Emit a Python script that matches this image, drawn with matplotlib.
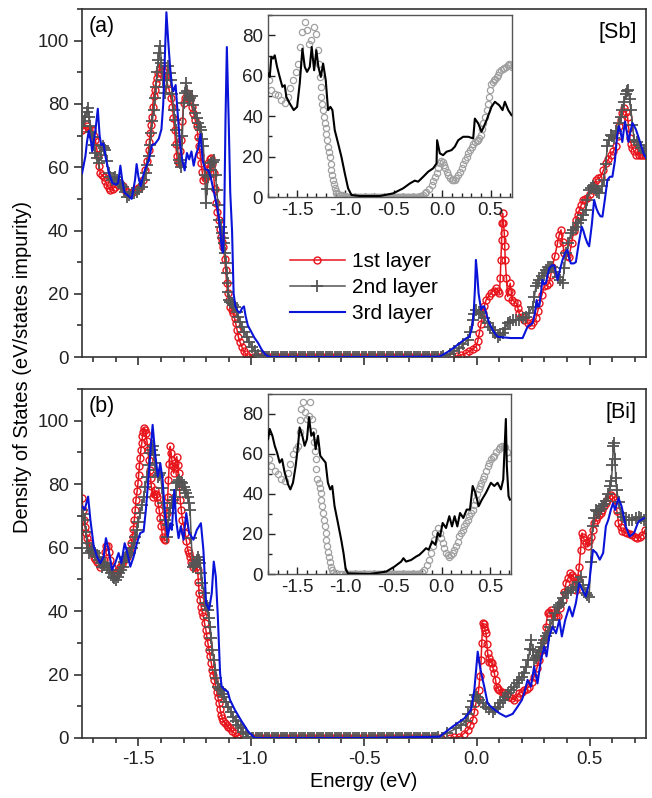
import numpy as np
import matplotlib
matplotlib.use("Agg")
import matplotlib.pyplot as plt
from matplotlib.ticker import MultipleLocator

plt.rcParams['font.family'] = ['Liberation Sans', 'DejaVu Sans']
plt.rcParams['axes.unicode_minus'] = False

# energy points of the flat gap region (DOS = 0)
gap_energy = [-0.99, -0.98, -0.97, -0.96, -0.95, -0.94, -0.93, -0.92, -0.91, -0.90,
              -0.89, -0.88, -0.87, -0.86, -0.85, -0.84, -0.83, -0.82, -0.81, -0.80,
              -0.79, -0.78, -0.77, -0.76, -0.75, -0.74, -0.73, -0.72, -0.71, -0.70,
              -0.69, -0.68, -0.67, -0.66, -0.65, -0.64, -0.63, -0.62, -0.61, -0.60,
              -0.59, -0.58, -0.57, -0.56, -0.55, -0.54, -0.53, -0.52, -0.51, -0.50,
              -0.49, -0.48, -0.47, -0.46, -0.45, -0.44, -0.43, -0.42, -0.41, -0.40,
              -0.39, -0.38, -0.37, -0.36, -0.35, -0.34, -0.33, -0.32, -0.31, -0.30,
              -0.29, -0.28, -0.27, -0.26, -0.25, -0.24, -0.23, -0.22, -0.21, -0.20,
              -0.19, -0.18, -0.17, -0.16]

# ---------------- panel (a) [Sb] ----------------
sb_1st_left = [(-1.75, 71.8), (-1.74, 72.5), (-1.728, 72.9), (-1.717, 72), (-1.706, 71.8), (-1.698, 70), (-1.691, 68.7),
    (-1.685, 66), (-1.679, 63.4), (-1.674, 60.5), (-1.669, 58.1), (-1.662, 57.5), (-1.654, 57), (-1.646, 55.5),
    (-1.639, 54.4), (-1.632, 53.5), (-1.625, 52.8), (-1.614, 53.2), (-1.603, 53.9), (-1.592, 54.5), (-1.58, 55),
    (-1.569, 54), (-1.558, 52.8), (-1.547, 52.2), (-1.536, 51.8), (-1.525, 52.2), (-1.514, 52.8), (-1.503, 53.3),
    (-1.492, 53.9), (-1.481, 56), (-1.47, 59.2), (-1.462, 62), (-1.455, 65.5), (-1.451, 68), (-1.448, 70.8),
    (-1.444, 73.5), (-1.44, 76), (-1.437, 79), (-1.433, 82.4), (-1.428, 84.5), (-1.423, 86.6), (-1.417, 88.3),
    (-1.411, 89.8), (-1.404, 91), (-1.396, 91.9), (-1.389, 90.5), (-1.381, 88.7), (-1.372, 86.5), (-1.364, 84.5),
    (-1.357, 82), (-1.349, 79.2), (-1.345, 75.5), (-1.34, 71.8), (-1.335, 67.5), (-1.33, 63.4), (-1.324, 62),
    (-1.319, 61.3), (-1.314, 65), (-1.31, 68.7), (-1.305, 74.5), (-1.3, 80.3), (-1.293, 82), (-1.285, 83.4),
    (-1.278, 82.5), (-1.27, 81.3), (-1.263, 79), (-1.256, 77.1), (-1.248, 75), (-1.241, 72.9), (-1.236, 69.5),
    (-1.231, 66.6), (-1.226, 64), (-1.222, 61.3), (-1.217, 58.5), (-1.212, 56), (-1.206, 56.5), (-1.201, 57),
    (-1.195, 59), (-1.19, 61.3), (-1.184, 62.5), (-1.178, 62.9), (-1.172, 61), (-1.167, 58.1), (-1.162, 53),
    (-1.157, 48.6), (-1.151, 46), (-1.145, 43.4), (-1.139, 40.5), (-1.133, 38.1), (-1.128, 36.5), (-1.123, 34.9),
    (-1.118, 31), (-1.113, 27.5), (-1.109, 23.5), (-1.105, 20.1), (-1.1, 18), (-1.094, 15.9), (-1.087, 14.8),
    (-1.079, 13.8), (-1.074, 12.2), (-1.069, 10.7), (-1.063, 8.5), (-1.057, 6.4), (-1.05, 4.8), (-1.042, 3.3),
    (-1.034, 2), (-1.025, 1), (-1.013, 0.1)]
sb_1st_right = [(-0.11, 0), (-0.09, 0.3), (-0.07, 0.6), (-0.05, 1.2), (-0.033, 1.8), (-0.018, 2.5), (-0.004, 3.3),
    (0.004, 5), (0.011, 7.5), (0.019, 10.5), (0.026, 13.8), (0.033, 16), (0.041, 18), (0.052, 19.2), (0.063, 20.1),
    (0.074, 21), (0.085, 21.7), (0.093, 21), (0.1, 20.1), (0.104, 25), (0.107, 30.7), (0.11, 37), (0.112, 42.3),
    (0.114, 45.5), (0.118, 42.5), (0.122, 39.1), (0.124, 35), (0.126, 30.7), (0.131, 25), (0.137, 19.1),
    (0.142, 21), (0.148, 23.3), (0.153, 20.5), (0.158, 18), (0.167, 17.5), (0.176, 17), (0.182, 15.5),
    (0.188, 13.8), (0.199, 12.7), (0.21, 11.7), (0.225, 10.8), (0.24, 10.1), (0.251, 11), (0.262, 12.2),
    (0.27, 14.5), (0.277, 17), (0.288, 19.5), (0.299, 22.3), (0.31, 22.8), (0.321, 23.3), (0.328, 26),
    (0.335, 28.6), (0.346, 32), (0.358, 36), (0.365, 38.5), (0.373, 40.2), (0.38, 36.5), (0.387, 32.8),
    (0.398, 32), (0.409, 31.7), (0.42, 36), (0.43, 40), (0.439, 43.4), (0.447, 45), (0.454, 46.5), (0.462, 48),
    (0.471, 49.7), (0.48, 50), (0.49, 50.2), (0.5, 51.5), (0.51, 52.8), (0.518, 54.5), (0.527, 56), (0.538, 56.5),
    (0.55, 57), (0.561, 59), (0.572, 61.3), (0.583, 62.5), (0.594, 63.9), (0.605, 65), (0.616, 66.6), (0.624, 70),
    (0.632, 73), (0.638, 75), (0.645, 77), (0.653, 78.7), (0.66, 77.5), (0.668, 76), (0.673, 72.5), (0.678, 69.2),
    (0.684, 67.5), (0.69, 66), (0.698, 65), (0.707, 63.9), (0.717, 63.9), (0.727, 63.9), (0.737, 63.9),
    (0.746, 63.9)]

sb_2nd_left = [(-1.75, 72.9), (-1.742, 74.5), (-1.735, 76), (-1.729, 77.5), (-1.723, 78.7), (-1.718, 76),
    (-1.713, 72.9), (-1.708, 71.3), (-1.703, 69.7), (-1.697, 67), (-1.691, 64.5), (-1.684, 62.8), (-1.676, 61.3),
    (-1.668, 64), (-1.659, 66.6), (-1.653, 66), (-1.647, 65.5), (-1.64, 62), (-1.632, 58.1), (-1.625, 57),
    (-1.617, 56), (-1.61, 56.5), (-1.603, 57), (-1.596, 56), (-1.588, 55), (-1.579, 54.5), (-1.57, 53.9),
    (-1.56, 52.3), (-1.551, 50.7), (-1.54, 51.2), (-1.529, 51.8), (-1.518, 52), (-1.507, 52.3), (-1.496, 53),
    (-1.485, 53.9), (-1.476, 56), (-1.467, 58.1), (-1.461, 60.7), (-1.455, 63.4), (-1.449, 67), (-1.443, 70.8),
    (-1.438, 74.5), (-1.433, 78.2), (-1.428, 82), (-1.423, 85.5), (-1.417, 90), (-1.411, 94), (-1.407, 96),
    (-1.403, 98.2), (-1.398, 93), (-1.393, 87.6), (-1.387, 85.5), (-1.381, 83.4), (-1.374, 87.5), (-1.367, 91.9),
    (-1.361, 89.8), (-1.355, 87.6), (-1.35, 83), (-1.344, 78.2), (-1.339, 75), (-1.334, 71.8), (-1.328, 67),
    (-1.322, 62.3), (-1.316, 61.3), (-1.31, 60.2), (-1.305, 70), (-1.3, 80.3), (-1.295, 83.5), (-1.29, 86.6),
    (-1.284, 84), (-1.278, 81.3), (-1.27, 82), (-1.263, 82.4), (-1.256, 79.8), (-1.249, 77.1), (-1.241, 75.5),
    (-1.234, 73.9), (-1.228, 72.8), (-1.222, 71.8), (-1.217, 69), (-1.212, 66.6), (-1.206, 57.5), (-1.201, 48.6),
    (-1.196, 53), (-1.19, 57), (-1.184, 59), (-1.178, 61.3), (-1.17, 61.8), (-1.163, 62.3), (-1.158, 57.5),
    (-1.153, 52.8), (-1.147, 48), (-1.142, 43.4), (-1.136, 41.2), (-1.13, 39.1), (-1.124, 37.5), (-1.119, 36),
    (-1.116, 33), (-1.113, 29.6), (-1.109, 26.5), (-1.105, 23.3), (-1.101, 20.5), (-1.098, 18), (-1.092, 17.5),
    (-1.086, 17), (-1.079, 16.5), (-1.072, 15.9), (-1.065, 14.3), (-1.057, 12.8), (-1.05, 11.2), (-1.042, 9.6),
    (-1.031, 8), (-1.02, 6.4), (-1.009, 4.8), (-0.998, 3.3), (-0.983, 1.8), (-0.968, 0.6), (-0.953, 0.2)]
sb_2nd_right = [(-0.15, 0.2), (-0.12, 1), (-0.1, 1.8), (-0.077, 2.7), (-0.06, 4), (-0.04, 5.4), (-0.03, 8),
    (-0.018, 11.7), (-0.011, 13.5), (-0.004, 14.9), (0.008, 14.3), (0.019, 13.8), (0.033, 12.2), (0.048, 10.7),
    (0.059, 9.6), (0.07, 8.5), (0.081, 7.5), (0.092, 6.4), (0.103, 7), (0.114, 7.5), (0.125, 9), (0.137, 10.7),
    (0.148, 11.2), (0.159, 11.7), (0.173, 11.7), (0.188, 11.7), (0.203, 12.2), (0.218, 12.8), (0.232, 14),
    (0.247, 15.9), (0.255, 19), (0.262, 22.3), (0.27, 23.5), (0.277, 24.4), (0.288, 25.5), (0.299, 26.5),
    (0.306, 27.5), (0.314, 28.6), (0.325, 28.6), (0.335, 28.6), (0.346, 27), (0.358, 25.4), (0.369, 24.3),
    (0.38, 23.3), (0.388, 28), (0.395, 32.8), (0.406, 36), (0.417, 39.1), (0.428, 40.2), (0.439, 41.2),
    (0.45, 42.3), (0.461, 43.4), (0.472, 45), (0.483, 46.5), (0.49, 49.5), (0.498, 52.8), (0.505, 53.5),
    (0.513, 54), (0.52, 53.4), (0.527, 52.8), (0.535, 52.3), (0.542, 51.8), (0.553, 54), (0.564, 56), (0.571, 61),
    (0.579, 66.6), (0.586, 68.5), (0.594, 70.3), (0.601, 69.8), (0.608, 69.2), (0.619, 71.5), (0.63, 74),
    (0.638, 76), (0.645, 78.2), (0.652, 80.5), (0.66, 83), (0.666, 84), (0.672, 84.5), (0.677, 81.5),
    (0.683, 78.2), (0.69, 73.5), (0.697, 68.7), (0.708, 68), (0.719, 67.1), (0.73, 66), (0.741, 65), (0.75, 64.5)]

sb_3rd = [(-1.75, 58), (-1.735, 63.5), (-1.728, 68), (-1.72, 71.5), (-1.71, 68), (-1.705, 65), (-1.69, 72),
    (-1.68, 78.5), (-1.672, 70), (-1.665, 67), (-1.655, 67.5), (-1.645, 63), (-1.63, 58), (-1.615, 55),
    (-1.6, 54.5), (-1.59, 55), (-1.58, 60.5), (-1.572, 56), (-1.562, 52), (-1.545, 51), (-1.53, 50), (-1.515, 56),
    (-1.508, 61), (-1.5, 57), (-1.49, 54), (-1.48, 57), (-1.47, 59.5), (-1.455, 62), (-1.44, 67), (-1.425, 67.5),
    (-1.41, 69), (-1.398, 72), (-1.39, 80), (-1.383, 95), (-1.376, 109), (-1.368, 100), (-1.36, 92), (-1.352, 86),
    (-1.345, 84), (-1.335, 86), (-1.325, 76), (-1.315, 67), (-1.305, 62), (-1.295, 59), (-1.285, 64.5),
    (-1.275, 62.5), (-1.265, 65), (-1.255, 60.5), (-1.245, 64), (-1.235, 66), (-1.225, 70.5), (-1.215, 62),
    (-1.205, 59.5), (-1.19, 59), (-1.18, 57), (-1.165, 52), (-1.15, 47), (-1.14, 42), (-1.13, 34), (-1.125, 33),
    (-1.12, 42), (-1.114, 75), (-1.108, 98), (-1.1, 75), (-1.093, 52), (-1.085, 40), (-1.078, 20), (-1.07, 16),
    (-1.06, 14.5), (-1.05, 14), (-1.04, 15.5), (-1.032, 16), (-1.025, 13), (-1.015, 10), (-1.0, 8), (-0.985, 6),
    (-0.97, 4.5), (-0.955, 2.5), (-0.94, 1), (-0.925, 0.2), (-0.91, 0), (-0.5, 0), (-0.166, 0.1), (-0.12, 2),
    (-0.077, 4.3), (-0.05, 5.8), (-0.033, 6.4), (-0.022, 9), (-0.014, 13.8), (-0.008, 22), (-0.004, 30.7),
    (0.002, 26), (0.008, 20), (0.019, 15), (0.027, 16), (0.033, 16), (0.045, 13), (0.055, 10.7), (0.075, 8),
    (0.092, 6.4), (0.15, 6), (0.203, 6), (0.215, 8), (0.225, 9.6), (0.247, 10.7), (0.258, 14), (0.265, 18),
    (0.271, 16), (0.277, 16), (0.284, 20), (0.291, 24.4), (0.298, 23), (0.306, 23.3), (0.314, 26), (0.321, 28),
    (0.333, 29), (0.343, 29), (0.35, 27), (0.358, 24.4), (0.37, 28), (0.38, 30.7), (0.392, 33), (0.402, 33.9),
    (0.41, 31), (0.417, 29.6), (0.43, 29.6), (0.439, 30), (0.452, 36), (0.465, 41.2), (0.472, 40), (0.48, 38),
    (0.49, 36), (0.498, 35), (0.51, 42), (0.52, 49.7), (0.53, 47), (0.539, 45.5), (0.548, 44.5), (0.557, 44.4),
    (0.568, 50), (0.579, 56), (0.59, 57), (0.601, 57), (0.612, 62), (0.622, 70), (0.63, 73), (0.638, 71),
    (0.645, 68), (0.652, 72), (0.657, 74.5), (0.665, 71), (0.672, 68), (0.68, 71), (0.69, 74), (0.705, 72),
    (0.719, 69), (0.73, 66.5), (0.741, 64), (0.75, 63)]

# inset of panel (a)
sb_inset_circles = [(-1.789, 57.8), (-1.765, 52.8), (-1.73, 51.2), (-1.696, 50.4), (-1.661, 47.9), (-1.627, 46.3),
    (-1.592, 49.5), (-1.568, 53.7), (-1.541, 57.8), (-1.513, 61.9), (-1.489, 66), (-1.465, 74.2), (-1.444, 81.6),
    (-1.42, 86.6), (-1.396, 82.5), (-1.375, 75.9), (-1.351, 77.5), (-1.327, 84.1), (-1.3, 80.8), (-1.282, 72.6),
    (-1.274, 66), (-1.265, 59.4), (-1.256, 54.5), (-1.248, 49.5), (-1.239, 46), (-1.23, 43), (-1.222, 39.5),
    (-1.213, 36.4), (-1.205, 34), (-1.196, 31.4), (-1.188, 28), (-1.179, 24.9), (-1.17, 22.5), (-1.161, 19.9),
    (-1.152, 16.5), (-1.144, 13.3), (-1.135, 10.8), (-1.127, 8.4), (-1.118, 6.2), (-1.11, 4.3), (-1.1, 3),
    (-1.093, 2.1), (-1.075, 1.4), (-1.058, 1), (-1.04, 0.8), (-1.02, 0.6), (-1.0, 0.5), (-0.231, 0.5),
    (-0.2, 1.2), (-0.18, 1.8), (-0.162, 2.6), (-0.135, 4), (-0.11, 5.9), (-0.093, 8), (-0.076, 10), (-0.058, 12),
    (-0.041, 14.2), (-0.024, 17), (-0.01, 17.6), (0.004, 17.4), (0.016, 16), (0.028, 14.2), (0.045, 12.5),
    (0.062, 10.9), (0.08, 9.5), (0.097, 8.4), (0.114, 8.2), (0.131, 8.4), (0.148, 9.5), (0.166, 10.9),
    (0.183, 12.5), (0.2, 14.2), (0.218, 16.2), (0.235, 18.3), (0.252, 20), (0.269, 21.6), (0.286, 23.2),
    (0.304, 24.9), (0.321, 26.2), (0.338, 27.3), (0.356, 27.8), (0.373, 28.1), (0.385, 29), (0.397, 30.6),
    (0.41, 33.5), (0.424, 36.4), (0.441, 39.7), (0.459, 43), (0.472, 46.2), (0.486, 49.5), (0.498, 52.8),
    (0.51, 56.1), (0.522, 57), (0.535, 57.8), (0.548, 58.6), (0.562, 59.4), (0.576, 60.6), (0.59, 61.9),
    (0.607, 62.7), (0.624, 63.5), (0.641, 64), (0.659, 64.4), (0.676, 65.2), (0.693, 66), (0.705, 65.2),
    (0.717, 64.4)]
sb_inset_line = [(-1.799, 61.1), (-1.782, 59.4), (-1.765, 69.3), (-1.747, 68.5), (-1.73, 70.1), (-1.706, 64.4),
    (-1.679, 59.4), (-1.651, 54.5), (-1.627, 55.3), (-1.61, 49.5), (-1.575, 46.3), (-1.534, 43), (-1.499, 44.6),
    (-1.472, 56.1), (-1.444, 73.4), (-1.42, 64.4), (-1.396, 61.9), (-1.368, 64.4), (-1.348, 74.2), (-1.323, 62.7),
    (-1.3, 72.6), (-1.279, 64.4), (-1.254, 59.4), (-1.23, 66), (-1.203, 57.8), (-1.179, 43), (-1.155, 44.6),
    (-1.134, 43), (-1.11, 33.1), (-1.075, 26.5), (-1.041, 19.9), (-1.006, 11.7), (-0.972, 4.3), (-0.937, 1),
    (-0.851, 0.5), (-0.644, 0.5), (-0.507, 1.8), (-0.403, 4.3), (-0.334, 6.7), (-0.283, 8.1), (-0.248, 7.6),
    (-0.196, 10), (-0.145, 12.5), (-0.093, 14.2), (-0.058, 16.6), (-0.052, 28.1), (-0.024, 21.6), (0.01, 20.7),
    (0.045, 22.4), (0.097, 23.2), (0.131, 24.9), (0.166, 28.1), (0.217, 29.8), (0.269, 29.8), (0.321, 29),
    (0.338, 38.8), (0.373, 36.4), (0.407, 32.3), (0.459, 38), (0.51, 44.6), (0.545, 47.1), (0.59, 45.4),
    (0.624, 43), (0.648, 47.1), (0.683, 43), (0.717, 40.5)]

# ---------------- panel (b) [Bi] ----------------
bi_1st_left = [(-1.75, 75.6), (-1.746, 72), (-1.743, 68.8), (-1.737, 66.5), (-1.732, 64.6), (-1.726, 63),
    (-1.72, 61.4), (-1.714, 60.3), (-1.709, 59.3), (-1.703, 58.2), (-1.698, 57.2), (-1.691, 56.4), (-1.684, 55.6),
    (-1.676, 54.8), (-1.669, 54), (-1.661, 55), (-1.654, 56.2), (-1.649, 58.5), (-1.644, 60.4), (-1.635, 60.4),
    (-1.63, 58.5), (-1.625, 56.2), (-1.617, 54), (-1.61, 51.9), (-1.602, 51.9), (-1.595, 51.9), (-1.587, 53),
    (-1.58, 54), (-1.573, 55), (-1.566, 56.2), (-1.558, 56.7), (-1.551, 57.2), (-1.543, 58.2), (-1.536, 59.3),
    (-1.531, 61.5), (-1.526, 63.5), (-1.522, 66), (-1.518, 68.8), (-1.514, 72), (-1.511, 75.1), (-1.506, 77.7),
    (-1.502, 80.3), (-1.499, 83), (-1.496, 85.6), (-1.492, 88.3), (-1.489, 90.9), (-1.485, 93), (-1.482, 95.1),
    (-1.478, 96.5), (-1.474, 97.7), (-1.47, 97), (-1.467, 96.1), (-1.462, 93.5), (-1.458, 90.9), (-1.454, 87.7),
    (-1.45, 84.5), (-1.446, 82), (-1.443, 79.3), (-1.437, 76.1), (-1.432, 77), (-1.428, 78.2), (-1.423, 77),
    (-1.418, 76.1), (-1.413, 74), (-1.408, 71.9), (-1.403, 69.3), (-1.399, 66.7), (-1.393, 63.5), (-1.388, 62.8),
    (-1.384, 62.5), (-1.379, 66.5), (-1.374, 70.9), (-1.37, 76), (-1.367, 81.4), (-1.363, 86.5), (-1.359, 91.9),
    (-1.355, 89.8), (-1.352, 87.7), (-1.348, 85.6), (-1.344, 83.5), (-1.34, 85), (-1.337, 86.6), (-1.33, 88.7),
    (-1.326, 86), (-1.322, 83.5), (-1.318, 79.3), (-1.315, 75.1), (-1.31, 72), (-1.305, 68.8), (-1.299, 66.7),
    (-1.293, 64.6), (-1.287, 62), (-1.281, 59.3), (-1.276, 58.2), (-1.271, 57.2), (-1.265, 55.6), (-1.26, 54),
    (-1.254, 54.5), (-1.248, 55.1), (-1.243, 54), (-1.238, 53), (-1.234, 49.3), (-1.231, 45.6), (-1.226, 43.5),
    (-1.222, 41.4), (-1.217, 39.8), (-1.212, 38.3), (-1.207, 36.2), (-1.201, 34.1), (-1.197, 32), (-1.192, 29.9),
    (-1.187, 27.8), (-1.182, 25.7), (-1.177, 23.6), (-1.172, 21.5), (-1.168, 19.9), (-1.163, 18.3), (-1.158, 16.4),
    (-1.153, 14.6), (-1.148, 12.8), (-1.142, 10.9), (-1.138, 9.1), (-1.133, 7.3), (-1.128, 6.2), (-1.123, 5.2),
    (-1.116, 4.6), (-1.108, 4.1), (-1.101, 3.5), (-1.094, 3), (-1.084, 2.2), (-1.074, 1.5), (-1.065, 0.7),
    (-1.057, 0)]
bi_1st_right = [(-0.12, 0), (-0.1, 0.2), (-0.077, 0.4), (-0.058, 1.4), (-0.04, 2.5), (-0.029, 4), (-0.018, 5.7),
    (-0.011, 8.2), (-0.004, 10.9), (0.002, 13), (0.008, 15.1), (0.014, 19.5), (0.019, 24.6), (0.022, 30),
    (0.026, 36.2), (0.03, 36), (0.033, 35.1), (0.037, 34), (0.041, 33), (0.045, 29.5), (0.048, 26.7),
    (0.052, 25.2), (0.055, 24.1), (0.061, 23.8), (0.067, 23.6), (0.072, 22), (0.078, 20.4), (0.083, 18.3),
    (0.088, 16.2), (0.094, 15.6), (0.1, 15.1), (0.111, 14.6), (0.122, 14.1), (0.133, 13.5), (0.144, 13),
    (0.155, 12.5), (0.166, 12), (0.177, 13), (0.188, 14.1), (0.199, 14.6), (0.21, 15.1), (0.221, 15.6),
    (0.232, 16.2), (0.243, 17.7), (0.254, 19.3), (0.266, 22), (0.277, 24.6), (0.288, 27.7), (0.299, 30.9),
    (0.306, 35), (0.314, 39.3), (0.321, 39.8), (0.329, 40.4), (0.336, 39.3), (0.343, 38.3), (0.35, 38.3),
    (0.358, 38.3), (0.369, 41), (0.38, 43.5), (0.388, 46), (0.395, 48.8), (0.404, 50.3), (0.413, 51.9),
    (0.42, 51.4), (0.428, 50.9), (0.434, 48.8), (0.439, 46.7), (0.447, 50.4), (0.454, 54), (0.46, 59.3),
    (0.466, 64.6), (0.471, 63.5), (0.476, 62.5), (0.484, 61.5), (0.491, 60.4), (0.498, 62), (0.506, 63.5),
    (0.513, 65.6), (0.521, 67.7), (0.528, 68.8), (0.535, 69.8), (0.543, 70.3), (0.55, 70.9), (0.557, 72),
    (0.564, 73), (0.572, 74), (0.579, 75.1), (0.587, 76), (0.594, 76.7), (0.603, 76), (0.613, 75.1),
    (0.621, 71.5), (0.628, 67.7), (0.637, 66.4), (0.645, 65.1), (0.656, 64.8), (0.667, 64.6), (0.678, 64.3),
    (0.69, 64), (0.701, 63.5), (0.712, 63), (0.723, 63.5), (0.734, 64), (0.746, 65.6)]

bi_2nd_left = [(-1.75, 72), (-1.744, 70.5), (-1.738, 68.8), (-1.733, 65), (-1.728, 61.4), (-1.723, 59.8),
    (-1.718, 58.3), (-1.712, 58.8), (-1.706, 59.3), (-1.698, 58.8), (-1.691, 58.3), (-1.684, 57.2), (-1.676, 56.2),
    (-1.668, 55.1), (-1.661, 54), (-1.654, 54.5), (-1.647, 55.1), (-1.64, 54), (-1.632, 53), (-1.623, 52),
    (-1.614, 50.9), (-1.607, 50.3), (-1.6, 49.8), (-1.592, 50.8), (-1.585, 51.9), (-1.577, 53), (-1.57, 54),
    (-1.562, 55.6), (-1.555, 57.2), (-1.546, 57.7), (-1.536, 58.3), (-1.528, 59.8), (-1.521, 61.4), (-1.514, 63.5),
    (-1.507, 65.6), (-1.5, 68.2), (-1.492, 70.9), (-1.485, 73.5), (-1.477, 76.1), (-1.47, 79.2), (-1.462, 82.4),
    (-1.455, 86.1), (-1.448, 89.8), (-1.442, 90.8), (-1.437, 91.9), (-1.431, 89.2), (-1.426, 86.6), (-1.42, 84.5),
    (-1.414, 82.4), (-1.408, 83), (-1.403, 83.5), (-1.396, 78.8), (-1.389, 74), (-1.382, 68.8), (-1.374, 63.5),
    (-1.369, 67.2), (-1.364, 70.9), (-1.358, 72.5), (-1.352, 74), (-1.346, 75), (-1.34, 76.1), (-1.335, 78.2),
    (-1.33, 80.3), (-1.324, 80.8), (-1.319, 81.4), (-1.313, 80.8), (-1.308, 80.3), (-1.3, 79.2), (-1.293, 78.2),
    (-1.287, 77.1), (-1.281, 76.1), (-1.276, 74), (-1.271, 71.9), (-1.266, 63), (-1.26, 54), (-1.254, 54.5),
    (-1.248, 55.1), (-1.242, 56.2), (-1.237, 57.2), (-1.231, 56.2), (-1.226, 55.1), (-1.221, 52), (-1.216, 48.8),
    (-1.21, 45.6), (-1.204, 42.5), (-1.198, 41.5), (-1.192, 40.4), (-1.187, 37.8), (-1.182, 35.1), (-1.177, 31.5),
    (-1.172, 27.8), (-1.166, 24.7), (-1.16, 21.5), (-1.154, 18.8), (-1.148, 16.2), (-1.14, 15.6), (-1.133, 15.1),
    (-1.126, 14), (-1.119, 13), (-1.11, 11.4), (-1.101, 9.9), (-1.09, 8.3), (-1.079, 6.7), (-1.068, 5.4),
    (-1.057, 4.1), (-1.046, 3), (-1.035, 2), (-1.024, 1.2), (-1.013, 0.4), (-0.998, 0)]
bi_2nd_right = [(-0.17, 0.3), (-0.13, 1.6), (-0.092, 3), (-0.07, 4.1), (-0.048, 5.2), (-0.037, 7.5),
    (-0.026, 9.9), (-0.016, 11.8), (-0.007, 13.6), (0.002, 12.8), (0.011, 12), (0.026, 11), (0.041, 9.9),
    (0.055, 9.1), (0.07, 8.3), (0.081, 9.1), (0.092, 9.9), (0.103, 11), (0.114, 12), (0.126, 13), (0.137, 14.1),
    (0.151, 15.1), (0.166, 16.2), (0.177, 17.2), (0.188, 18.3), (0.199, 19.3), (0.21, 20.4), (0.22, 22.5),
    (0.229, 24.6), (0.235, 28), (0.24, 30.9), (0.247, 27.7), (0.254, 24.6), (0.262, 25.1), (0.269, 25.7),
    (0.277, 27.2), (0.284, 28.8), (0.292, 29.8), (0.299, 30.9), (0.306, 32), (0.314, 33), (0.325, 35.1),
    (0.336, 37.2), (0.347, 39.3), (0.358, 41.4), (0.366, 42), (0.373, 42.5), (0.384, 44), (0.395, 45.6),
    (0.406, 46.1), (0.417, 46.7), (0.428, 47.2), (0.439, 47.7), (0.45, 49.3), (0.461, 50.9), (0.472, 48.2),
    (0.483, 45.6), (0.49, 45.1), (0.498, 44.6), (0.505, 55.6), (0.513, 66.7), (0.52, 69.3), (0.527, 71.9),
    (0.535, 71.6), (0.542, 71.4), (0.55, 72.2), (0.557, 73), (0.565, 73.8), (0.572, 74.6), (0.581, 77),
    (0.59, 79.3), (0.597, 81), (0.601, 86), (0.605, 92), (0.608, 93), (0.612, 88), (0.616, 82), (0.62, 78.2),
    (0.629, 74.5), (0.638, 70.9), (0.649, 69.8), (0.66, 68.8), (0.675, 68.8), (0.69, 68.8), (0.704, 69.3),
    (0.719, 69.8), (0.73, 69.3), (0.741, 68.8), (0.75, 68.5)]

bi_3rd = [(-1.75, 73), (-1.738, 72), (-1.723, 76.1), (-1.713, 68.8), (-1.698, 60.4), (-1.684, 57.2),
    (-1.669, 55.1), (-1.654, 57.2), (-1.644, 63), (-1.632, 59.3), (-1.617, 53), (-1.603, 55.1), (-1.588, 58.3),
    (-1.576, 55.1), (-1.561, 61.4), (-1.549, 58.3), (-1.536, 54), (-1.521, 57.2), (-1.507, 61.4), (-1.492, 64.6),
    (-1.477, 65.1), (-1.467, 71.9), (-1.455, 82.4), (-1.446, 90.9), (-1.437, 98.7), (-1.426, 89.8), (-1.414, 82.4),
    (-1.403, 86.6), (-1.393, 81.4), (-1.381, 69.8), (-1.37, 63.5), (-1.359, 67.7), (-1.352, 65.6), (-1.341, 78.2),
    (-1.333, 68.8), (-1.322, 63), (-1.312, 66.7), (-1.3, 62.5), (-1.288, 70.9), (-1.275, 64.6), (-1.256, 62.5),
    (-1.241, 65.6), (-1.223, 67.7), (-1.212, 59.3), (-1.2, 42.5), (-1.187, 40.4), (-1.175, 45.6), (-1.166, 55.6),
    (-1.157, 50.9), (-1.148, 38.3), (-1.138, 20.4), (-1.131, 16.2), (-1.116, 15.1), (-1.104, 14.6), (-1.094, 12),
    (-1.072, 8.8), (-1.042, 5.2), (-1.013, 2), (-0.99, 0.4), (-0.983, 0), (-0.5, 0), (-0.166, 0.4), (-0.107, 3.6),
    (-0.055, 6.2), (-0.026, 8.8), (-0.011, 15.1), (0.004, 27.2), (0.014, 22.5), (0.023, 19.3), (0.033, 16.2),
    (0.048, 10.9), (0.07, 9.4), (0.1, 7.8), (0.129, 6.7), (0.159, 7.6), (0.181, 9.9), (0.2, 12), (0.21, 14.1),
    (0.225, 18.3), (0.24, 16.2), (0.254, 22.5), (0.269, 17.2), (0.284, 24.6), (0.299, 28.8), (0.309, 25.7),
    (0.321, 32), (0.336, 35.1), (0.351, 33), (0.366, 37.2), (0.377, 32), (0.392, 37.2), (0.41, 41.4),
    (0.424, 38.3), (0.439, 42.5), (0.454, 48.8), (0.468, 46.7), (0.483, 44.6), (0.498, 48.8), (0.515, 59.3),
    (0.53, 58.3), (0.545, 56.2), (0.56, 58.3), (0.572, 66.7), (0.583, 68.8), (0.594, 71.9), (0.604, 74),
    (0.613, 71.9), (0.628, 75.6), (0.642, 73), (0.66, 66.7), (0.678, 63.5), (0.697, 64.6), (0.716, 68.2),
    (0.741, 69.3)]

# inset of panel (b)
bi_inset_circles = [(-1.789, 57.4), (-1.765, 54), (-1.73, 51.5), (-1.696, 49.8), (-1.661, 47.3), (-1.627, 46.5),
    (-1.592, 50.7), (-1.568, 54.9), (-1.541, 59.9), (-1.513, 62.4), (-1.489, 64.1), (-1.472, 70.8),
    (-1.463, 77), (-1.454, 82.6), (-1.437, 85.9), (-1.42, 80.9), (-1.396, 77.5), (-1.375, 79.2), (-1.361, 85.9),
    (-1.341, 77.5), (-1.332, 71.5), (-1.323, 65.8), (-1.315, 61.5), (-1.306, 57.4), (-1.298, 52.5), (-1.289, 47.3),
    (-1.272, 45.6), (-1.263, 43), (-1.255, 40.6), (-1.246, 37.2), (-1.237, 33.9), (-1.228, 30.5), (-1.22, 27.2),
    (-1.211, 23.8), (-1.203, 20.5), (-1.194, 17.2), (-1.186, 13.8), (-1.177, 11.2), (-1.168, 8.7),
    (-1.16, 6.2), (-1.151, 3.7), (-1.14, 2), (-1.127, 0.7), (-1.1, 0.3), (-1.058, 0), (-1.03, 0), (-1.0, 0),
    (-0.231, 0), (-0.205, 0.8), (-0.179, 2), (-0.153, 4.3), (-0.127, 7), (-0.11, 10.3), (-0.093, 13.8),
    (-0.079, 17.2), (-0.065, 20.5), (-0.041, 23), (-0.017, 20.5), (-0.004, 18), (0.01, 15.4), (0.028, 12.8),
    (0.045, 10.4), (0.062, 9.4), (0.079, 8.7), (0.097, 9.4), (0.114, 10.4), (0.131, 12), (0.148, 13.8),
    (0.166, 16.2), (0.183, 18.8), (0.2, 20.5), (0.217, 22.1), (0.235, 23.8), (0.252, 25.5), (0.269, 27.2),
    (0.286, 28.9), (0.304, 30.5), (0.321, 32.2), (0.338, 34.7), (0.355, 37.2), (0.369, 39.8), (0.383, 42.3),
    (0.395, 44), (0.407, 45.6), (0.424, 47.3), (0.442, 49), (0.459, 51.5), (0.476, 54), (0.493, 55.7),
    (0.51, 57.4), (0.527, 58.3), (0.545, 59.1), (0.567, 60.8), (0.59, 62.4), (0.607, 63.3), (0.624, 64.1),
    (0.641, 63.7), (0.659, 63.3), (0.676, 60.8), (0.693, 58.2)]
bi_inset_line = [(-1.799, 67.4), (-1.782, 72.5), (-1.754, 69.1), (-1.73, 64.1), (-1.706, 60.7), (-1.679, 55.7),
    (-1.654, 57.4), (-1.627, 50.7), (-1.592, 44.8), (-1.568, 42.3), (-1.541, 45.6), (-1.513, 54), (-1.489, 64.1),
    (-1.472, 73.3), (-1.444, 69.1), (-1.42, 64.1), (-1.396, 67.4), (-1.375, 78.4), (-1.351, 69.1), (-1.327, 70.8),
    (-1.306, 62.4), (-1.282, 69.1), (-1.258, 59.1), (-1.231, 57.4), (-1.203, 55.7), (-1.179, 45.6), (-1.155, 42.3),
    (-1.134, 44), (-1.11, 33.9), (-1.075, 25.5), (-1.041, 17.1), (-1.017, 10.4), (-0.996, 2.9), (-0.972, 0.3),
    (-0.748, 0), (-0.575, 1.2), (-0.489, 3.7), (-0.42, 6.2), (-0.396, 7.9), (-0.369, 6.2), (-0.317, 7),
    (-0.265, 8.7), (-0.231, 9.6), (-0.196, 11.2), (-0.162, 12.9), (-0.134, 12.1), (-0.1, 16.3), (-0.065, 14.6),
    (-0.041, 20.5), (-0.017, 18.8), (0.01, 25.5), (0.045, 23), (0.079, 28.9), (0.107, 23.8), (0.134, 28.9),
    (0.162, 23.8), (0.19, 30.5), (0.224, 28), (0.259, 32.2), (0.293, 32.2), (0.321, 44), (0.349, 40.6),
    (0.383, 33.9), (0.417, 37.2), (0.459, 40.6), (0.51, 45.6), (0.545, 44), (0.579, 45.6), (0.614, 42.3),
    (0.638, 47.3), (0.665, 77.5), (0.675, 54), (0.693, 38.9), (0.707, 37.2)]

labels = ['1st layer', '2nd layer', '3rd layer']


def with_gap(left, right):
    # join the two branches through the zero-valued gap points
    lo, hi = left[-1][0], right[0][0]
    mid = [(e, 0.0) for e in gap_energy if lo < e < hi]
    pts = left + mid + right
    return [p[0] for p in pts], [p[1] for p in pts]


def xy(pts):
    return [p[0] for p in pts], [p[1] for p in pts]


fig = plt.figure(figsize=(6.52, 7.98), dpi=100)
ax_a = fig.add_axes([0.1258, 0.5526, 0.865, 0.436])
ax_b = fig.add_axes([0.1258, 0.0752, 0.865, 0.4373])

panels = [
    (ax_a, with_gap(sb_1st_left, sb_1st_right), with_gap(sb_2nd_left, sb_2nd_right), xy(sb_3rd), '(a)', '[Sb]'),
    (ax_b, with_gap(bi_1st_left, bi_1st_right), with_gap(bi_2nd_left, bi_2nd_right), xy(bi_3rd), '(b)', '[Bi]'),
]

for ax, first, second, third, tag, elem in panels:
    ax.plot(first[0], first[1], color='#e8141c', lw=1.1, marker='o', ms=5, mfc='none', mec='#e8141c',
            mew=1.0, label=labels[0], zorder=2)
    ax.plot(second[0], second[1], color='#555555', lw=1.1, marker='+', ms=9, mew=1.3, label=labels[1], zorder=3)
    ax.plot(third[0], third[1], color='#0a14d8', lw=1.5, label=labels[2], zorder=4)
    ax.set_xlim(-1.75, 0.75)
    ax.set_ylim(0, 110)
    ax.xaxis.set_major_locator(MultipleLocator(0.5))
    ax.xaxis.set_minor_locator(MultipleLocator(0.1))
    ax.yaxis.set_major_locator(MultipleLocator(20))
    ax.yaxis.set_minor_locator(MultipleLocator(10))
    ax.tick_params(which='major', direction='out', length=6, width=1.1, labelsize=13.5, colors='#222222')
    ax.tick_params(which='minor', direction='out', length=3.5, width=1.1, colors='#222222')
    for s in ax.spines.values():
        s.set_linewidth(1.2)
        s.set_color('#333333')
    ax.text(0.011, 0.951, tag, transform=ax.transAxes, fontsize=15.5, ha='left', va='center')
    ax.text(0.984, 0.934, elem, transform=ax.transAxes, fontsize=15.5, ha='right', va='center')

ax_a.tick_params(labelbottom=False)
ax_b.set_xlabel('Energy (eV)', fontsize=14.5, labelpad=3)
fig.text(0.034, 0.54, 'Density of States (eV/states impurity)', rotation=90, fontsize=14.5,
         ha='center', va='center')

leg = ax_a.legend(loc='center', bbox_to_anchor=(0.5, 0.2), fontsize=15, handlelength=2.64,
                  handletextpad=0.35, labelspacing=0.33, borderpad=0.3, frameon=True, fancybox=False,
                  edgecolor='none', facecolor='white', framealpha=1.0)
leg.set_zorder(5)

insets = [
    ([0.411, 0.7531, 0.374, 0.228], sb_inset_circles, sb_inset_line),
    ([0.411, 0.2807, 0.373, 0.2256], bi_inset_circles, bi_inset_line),
]
for rect, circ, line in insets:
    axi = fig.add_axes(rect)
    left = [c for c in circ if c[0] < -0.5]
    right = [c for c in circ if c[0] > -0.5]
    gx, gy = with_gap(left, right)
    axi.plot(gx, gy, ls='none', marker='o', ms=4.5, mfc='none', mec='#a0a0a0', mew=0.9, zorder=2)
    lx, ly = xy(line)
    axi.plot(lx, ly, color='black', lw=1.5, zorder=3)
    axi.set_xlim(-1.8, 0.72)
    axi.set_ylim(0, 90)
    axi.xaxis.set_major_locator(MultipleLocator(0.5))
    axi.xaxis.set_minor_locator(MultipleLocator(0.1))
    axi.yaxis.set_major_locator(MultipleLocator(20))
    axi.yaxis.set_minor_locator(MultipleLocator(10))
    axi.tick_params(which='major', direction='in', length=5, width=1.0, labelsize=13.5, colors='#222222')
    axi.tick_params(which='minor', direction='in', length=3, width=1.0, colors='#222222')
    for s in axi.spines.values():
        s.set_linewidth(1.0)
        s.set_color('#555555')

plt.savefig('out.png', dpi=100)
